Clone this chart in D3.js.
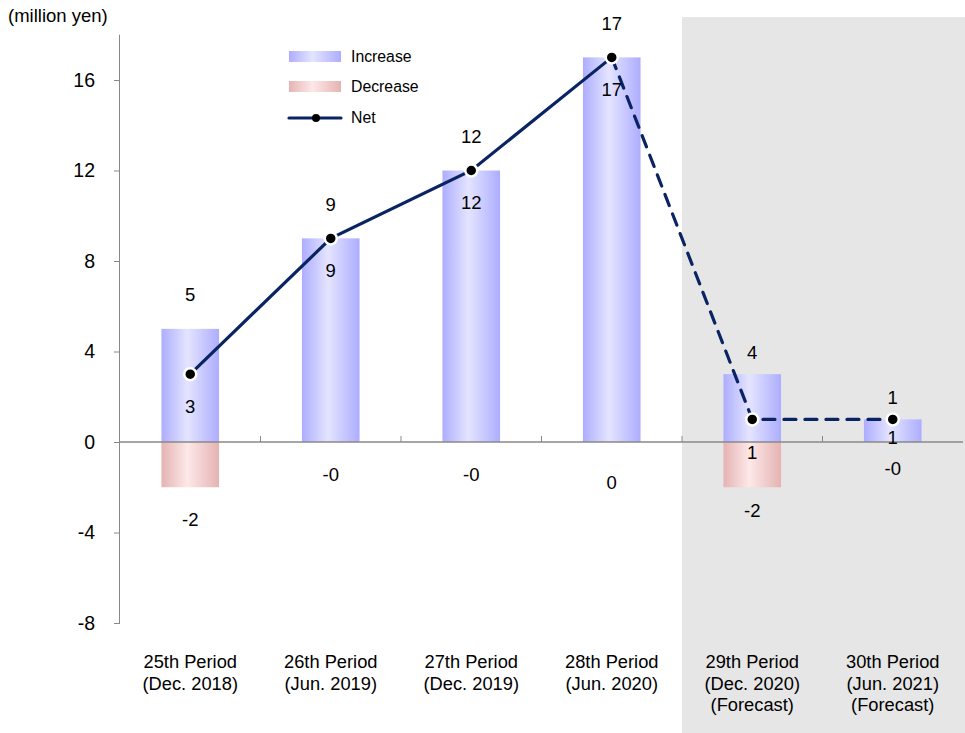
<!DOCTYPE html>
<html><head><meta charset="utf-8">
<script src="https://cdn.jsdelivr.net/npm/d3@7"></script>
<style>body{margin:0;background:#fff}svg{display:block;font-family:"Liberation Sans",Arial,sans-serif}</style>
</head><body><svg id="c" width="965" height="733"></svg>
<script>
const categories = [
  ["25th Period","(Dec. 2018)"],
  ["26th Period","(Jun. 2019)"],
  ["27th Period","(Dec. 2019)"],
  ["28th Period","(Jun. 2020)"],
  ["29th Period","(Dec. 2020)","(Forecast)"],
  ["30th Period","(Jun. 2021)","(Forecast)"]
];
const forecast = [false,false,false,false,true,true];
const increase = [5, 9, 12, 17, 3, 1];
const increaseLabels = ["5","9","12","17","4","1"];
const decrease = [-2, 0, 0, 0, -2, 0];
const decreaseLabels = ["-2","-0","-0","0","-2","-0"];
const net = [3, 9, 12, 17, 1, 1];
const netLabels = ["3","9","12","17","1","1"];
const yTicks = [-8,-4,0,4,8,12,16];

const svg = d3.select("#c");
const x = d3.scaleBand().domain(d3.range(categories.length)).range([120, 963]).paddingInner(0).paddingOuter(0);
const y = d3.scaleLinear().domain([-8, 18]).range([623, 34.75]);
const bw = x.bandwidth()*0.41;
const cx = i => x(i) + x.bandwidth()/2;

// forecast background
const firstF = forecast.indexOf(true);
svg.append("rect").attr("x", x(firstF)).attr("y", 17).attr("width", 965 - x(firstF)).attr("height", 733-17).attr("fill", "#e6e6e6");

const defs = svg.append("defs");
function grad(id, edge, mid){
  const g = defs.append("linearGradient").attr("id", id).attr("x1","0").attr("x2","1").attr("y1","0").attr("y2","0");
  g.append("stop").attr("offset","0%").attr("stop-color",edge);
  g.append("stop").attr("offset","45%").attr("stop-color",mid);
  g.append("stop").attr("offset","100%").attr("stop-color",edge);
}
grad("gi", "#adadff", "#e4e4ff");
grad("gd", "#e5b3b3", "#fde8e8");

// bars
svg.append("g").selectAll("rect").data(increase).join("rect")
  .attr("x",(d,i)=>cx(i)-bw/2).attr("width",bw)
  .attr("y",d=>y(d)).attr("height",d=>y(0)-y(d)).attr("fill","url(#gi)");
svg.append("g").selectAll("rect").data(decrease).join("rect")
  .attr("x",(d,i)=>cx(i)-bw/2).attr("width",bw)
  .attr("y",y(0)).attr("height",d=>y(d)-y(0)).attr("fill","url(#gd)");

// axes
const yAxis = d3.axisLeft(y).tickValues(yTicks).tickSize(6).tickPadding(19).tickFormat(d=>String(d));
const gy = svg.append("g").attr("transform","translate(120,0)").call(yAxis);
gy.select(".domain").attr("stroke","#888").attr("d", `M-0.5,${y(-8)}V${y(18)}`);
gy.selectAll(".tick line").attr("stroke","#888");
gy.selectAll(".tick text").attr("font-size",19.5).attr("fill","#000").attr("font-family","Liberation Sans, Arial, sans-serif");

svg.append("line").attr("x1",120).attr("x2",963).attr("y1",y(0)).attr("y2",y(0)).attr("stroke","#888").attr("stroke-width",1.5);
svg.append("g").selectAll("line").data(d3.range(1,categories.length)).join("line")
  .attr("x1",i=>x(i)).attr("x2",i=>x(i)).attr("y1",y(0)).attr("y2",y(0)-6).attr("stroke","#888");

svg.append("text").attr("x",8).attr("y",22).attr("font-size",18.5).text("(million yen)");

// x labels
const xl = svg.append("g");
categories.forEach((lines,i)=>{
  const t = xl.append("text").attr("x",cx(i)).attr("y",668).attr("text-anchor","middle").attr("font-size",18.3);
  lines.forEach((l,j)=>t.append("tspan").attr("x",cx(i)).attr("dy", j===0?0:21.5).text(l));
});

// net line
const navy = "#0a2463";
const pts = net.map((d,i)=>[cx(i), y(d)]);
const line = d3.line();
const lastActual = firstF - 1;
svg.append("path").attr("d", line(pts.slice(0,lastActual+1))).attr("fill","none").attr("stroke",navy).attr("stroke-width",3.2);
svg.append("path").attr("d", line(pts.slice(lastActual))).attr("fill","none").attr("stroke",navy).attr("stroke-width",3.2)
  .attr("stroke-dasharray","12,9").attr("stroke-linecap","round");
svg.append("g").selectAll("circle").data(net).join("circle")
  .attr("cx",(d,i)=>cx(i)).attr("cy",d=>y(d)).attr("r",6).attr("fill","#000").attr("stroke","#fff").attr("stroke-width",2.5);

// data labels
const lbl = svg.append("g").attr("font-size",18.5).attr("text-anchor","middle").attr("fill","#000");
increase.forEach((d,i)=>{
  lbl.append("text").attr("x",cx(i)).attr("y", y(d) - (forecast[i]?15.5:27.5)).text(increaseLabels[i]);
});
net.forEach((d,i)=>{
  const off = i===4 ? 40 : (i===5 ? 25 : 38.5);
  lbl.append("text").attr("x",cx(i)).attr("y", y(d) + off).text(netLabels[i]);
});
decrease.forEach((d,i)=>{
  const off = forecast[i] ? (d<0?30:32.5) : (d<0?39:(i===3?46.5:38.5));
  lbl.append("text").attr("x",cx(i)).attr("y", y(d) + off).text(decreaseLabels[i]);
});

// legend
const lg = svg.append("g");
lg.append("rect").attr("x",289).attr("y",51).attr("width",52).attr("height",11).attr("fill","url(#gi)");
lg.append("rect").attr("x",289).attr("y",81).attr("width",52).attr("height",11).attr("fill","url(#gd)");
lg.append("line").attr("x1",289).attr("x2",341).attr("y1",118).attr("y2",118).attr("stroke",navy).attr("stroke-width",3.2).attr("stroke-linecap","round");
lg.append("circle").attr("cx",316).attr("cy",118).attr("r",4).attr("fill","#000");
[["Increase",62],["Decrease",92],["Net",123]].forEach(([t,yy])=>{
  lg.append("text").attr("x",351).attr("y",yy).attr("font-size",15.8).text(t);
});
</script></body></html>
